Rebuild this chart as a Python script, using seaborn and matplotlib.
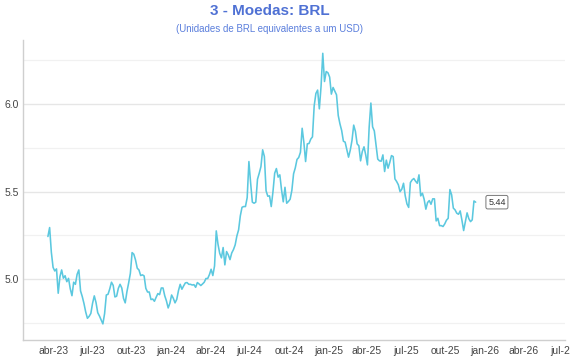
import numpy as np
import pandas as pd
import matplotlib
matplotlib.use("Agg")
import matplotlib.pyplot as plt
import matplotlib.dates as mdates
from matplotlib.ticker import MultipleLocator
import seaborn as sns

# ---- data (BRL per USD, sampled every 4 days from 2023-03-20) ----
start_date = "2023-03-20"
step = "4D"
brl_2023a = [5.244, 5.295, 5.154, 5.068, 5.047, 5.059, 4.920, 5.015, 5.053, 5.006,
             5.020, 4.986, 5.005, 4.946, 4.906, 4.983, 4.971, 5.028, 5.053, 4.933,
             4.901, 4.861, 4.813, 4.777, 4.788, 4.805, 4.863, 4.905, 4.867, 4.809,
             4.790, 4.767, 4.745, 4.804, 4.910, 4.914, 4.945, 4.983, 4.965, 4.899,
             4.903, 4.948, 4.971, 4.950, 4.891, 4.865, 4.929, 4.979, 5.034, 5.152,
             5.143]
brl_2023b = [5.110, 5.063, 5.053, 5.021, 5.025, 5.019, 4.948, 4.927, 4.927, 4.884,
             4.887, 4.874, 4.897, 4.918, 4.912, 4.950, 4.950, 4.906, 4.876, 4.836,
             4.863, 4.910, 4.891, 4.865, 4.885, 4.935, 4.971, 4.943, 4.962, 4.979,
             4.981, 4.971, 4.971, 4.967, 4.969, 4.954, 4.981, 4.973, 4.964, 4.973,
             4.983, 5.004, 5.004, 5.026, 5.057, 5.021, 5.076, 5.276, 5.200, 5.148,
             5.122, 5.181, 5.082]
brl_2024 = [5.158, 5.139, 5.112, 5.150, 5.169, 5.196, 5.247, 5.282, 5.362, 5.411,
            5.415, 5.415, 5.466, 5.672, 5.550, 5.440, 5.434, 5.440, 5.571, 5.605,
            5.643, 5.739, 5.701, 5.505, 5.474, 5.476, 5.415, 5.499, 5.605, 5.632,
            5.583, 5.596, 5.510, 5.442, 5.525, 5.434, 5.444, 5.457, 5.507, 5.602,
            5.636, 5.684, 5.695, 5.725, 5.862, 5.781, 5.672, 5.773, 5.775, 5.800,
            5.813, 5.990]
brl_2025a = [6.061, 6.080, 5.973, 6.101, 6.290, 6.129, 6.186, 6.179, 6.154, 6.057,
             6.095, 6.074, 6.053, 5.935, 5.887, 5.849, 5.788, 5.783, 5.739, 5.697,
             5.737, 5.792, 5.880, 5.844, 5.773, 5.762, 5.676, 5.729, 5.756, 5.710,
             5.653, 5.868, 6.006, 5.870, 5.847, 5.764, 5.686, 5.676, 5.674, 5.710,
             5.615, 5.680, 5.634, 5.667, 5.706, 5.700, 5.573, 5.558, 5.539]
brl_2025b = [5.500, 5.514, 5.548, 5.476, 5.430, 5.410, 5.552, 5.567, 5.575, 5.560,
             5.548, 5.596, 5.476, 5.491, 5.457, 5.400, 5.438, 5.449, 5.428, 5.459,
             5.459, 5.333, 5.348, 5.306, 5.306, 5.301, 5.316, 5.337, 5.348, 5.512,
             5.482, 5.406, 5.396, 5.377, 5.371, 5.390, 5.337, 5.278, 5.329, 5.379,
             5.346, 5.329, 5.339, 5.447, 5.440]
month_abbr = ["jan", "fev", "mar", "abr", "mai", "jun", "jul", "ago", "set", "out", "nov", "dez"]

title = "3 - Moedas: BRL"
subtitle = "(Unidades de BRL equivalentes a um USD)"

values = brl_2023a + brl_2023b + brl_2024 + brl_2025a + brl_2025b
dates = pd.date_range(start_date, periods=len(values), freq=step)
df = pd.DataFrame({"date": dates, "value": values})

sns.set_theme(style="white")
plt.rcParams["font.family"] = ["Liberation Sans", "DejaVu Sans"]

fig = plt.figure(figsize=(5.7, 3.6), dpi=100)
ax = fig.add_axes([23 / 570, 1 - 340 / 360, (565 - 23) / 570, 300 / 360])

sns.lineplot(data=df, x="date", y="value", ax=ax, color="#5bc8df", linewidth=1.15)

ax.set_xlim(pd.Timestamp("2023-01-21"), pd.Timestamp("2026-07-06"))
ax.set_ylim(4.653, 6.366)

ax.yaxis.set_major_locator(MultipleLocator(0.5))
ax.yaxis.set_minor_locator(MultipleLocator(0.25))
ax.yaxis.set_major_formatter(matplotlib.ticker.FormatStrFormatter("%.1f"))
ax.grid(axis="y", which="major", color="#e6e6e6", linewidth=1.0)
ax.grid(axis="y", which="minor", color="#f1f1f1", linewidth=0.9)
ax.grid(axis="x", visible=False)
ax.set_axisbelow(True)

ax.xaxis.set_major_locator(mdates.MonthLocator(bymonth=[1, 4, 7, 10]))
ax.xaxis.set_major_formatter(matplotlib.ticker.FuncFormatter(
    lambda v, p: f"{month_abbr[mdates.num2date(v).month - 1]}-{mdates.num2date(v).year % 100:02d}"))

ax.tick_params(axis="both", which="both", length=0, labelsize=7.5, colors="#444444", pad=4)
ax.tick_params(axis="y", pad=3)
ax.set_xlabel("")
ax.set_ylabel("")

for s in ["top", "right"]:
    ax.spines[s].set_visible(False)
for s in ["left", "bottom"]:
    ax.spines[s].set_color("#cfcfcf")
    ax.spines[s].set_linewidth(1.0)

last_date = df["date"].iloc[-1]
last_val = df["value"].iloc[-1]
ax.annotate(f"{last_val:.2f}", xy=(last_date, last_val), xytext=(9, 0),
            textcoords="offset points", ha="left", va="center", fontsize=6.5,
            color="#333333",
            bbox=dict(boxstyle="round,pad=0.25,rounding_size=0.2", fc="white", ec="#777777", lw=0.7))

fig.text(270 / 570, 1 - 11 / 360, title, ha="center", va="center", fontsize=11,
         fontweight="bold", color="#4f71d4")
fig.text(270 / 570, 1 - 29 / 360, subtitle, ha="center", va="center", fontsize=7,
         color="#5b7fdc")

fig.savefig("out.png", dpi=100)
